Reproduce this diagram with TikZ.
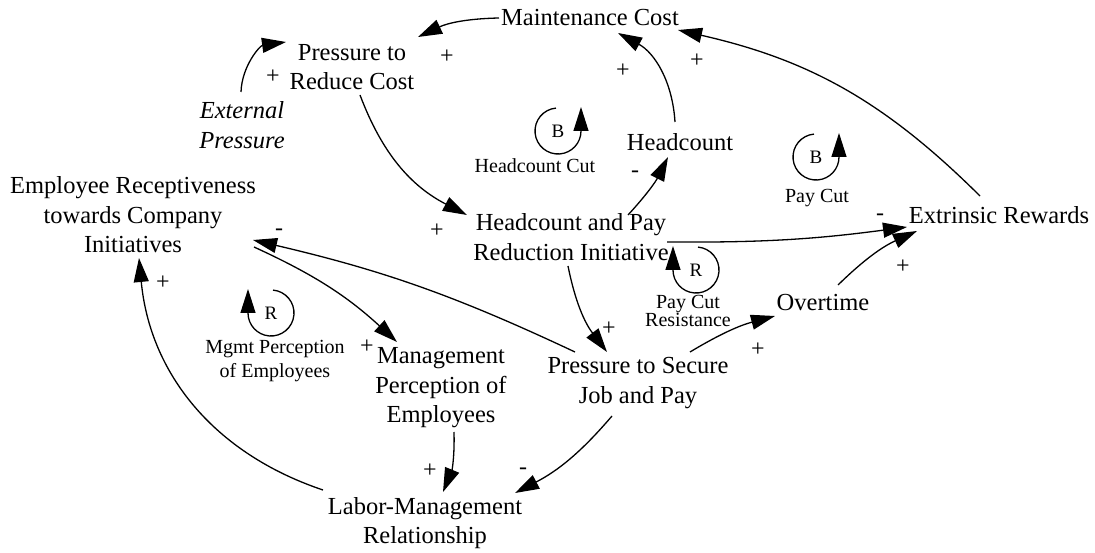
\documentclass[tikz,border=0pt]{standalone}
\usepackage{fontspec}
\setmainfont{Liberation Serif}
\usetikzlibrary{arrows.meta,calc}
\begin{document}
\begin{tikzpicture}[x=1pt,y=1pt,
  var/.style={align=center, inner sep=0pt, font=\fontsize{24.5}{29.5}\selectfont},
  lbl/.style={align=center, inner sep=0pt, font=\fontsize{20}{24}\selectfont},
  pol/.style={inner sep=0pt, font=\fontsize{24}{28}\selectfont},
  lp/.style={inner sep=0pt, font=\fontsize{19}{22}\selectfont},
  link/.style={line width=1.3pt, -{Triangle[length=24pt,width=15pt]}},
  loopln/.style={line width=1.3pt, -{Triangle[length=24pt,width=15pt]}}
]
\useasboundingbox (0,0) rectangle (1095,552);
\fill[white] (0,0) rectangle (1095,552);

% variables
\node[var] (MC) at (590,534) {Maintenance Cost};
\node[var] (PRC) at (352,485) {Pressure to\\Reduce Cost};
\node[var, font=\fontsize{24.5}{30}\selectfont\itshape] (EP) at (242,427) {External\\Pressure};
\node[var] (HC) at (680,410) {Headcount};
\node[var] (HPRI) at (571,315) {Headcount and Pay\\Reduction Initiative};
\node[var] (ER) at (999,337) {Extrinsic Rewards};
\node[var] (OT) at (823,249) {Overtime};
\node[var] (ERC) at (133,337) {Employee Receptiveness\\towards Company\\Initiatives};
\node[var] (MPE) at (441,164) {Management\\Perception of\\Employees};
\node[var] (PSJ) at (638,169) {Pressure to Secure\\Job and Pay};
\node[var] (LMR) at (425,29) {Labor-Management\\Relationship};

% loop labels
\node[lbl] (HCL) at (535,386) {Headcount Cut};
\node[lbl] (PCL) at (817,354) {Pay Cut};
\node[lbl, font=\fontsize{20}{13}\selectfont] (PCRL) at (688,241) {Pay Cut\\Resistance};
\node[lbl] (MPL) at (275,191) {Mgmt Perception\\of Employees};

% loop symbols
\node[lp] (L1) at (558,421) {B};
\node[lp] (L2) at (816,395) {B};
\node[lp] (L3) at (696,282) {R};
\node[lp] (L4) at (271,239) {R};
\draw[loopln] ($(L1)+(95:23)$) arc[start angle=95,end angle=360,radius=23] -- ++(0,24);
\draw[loopln] ($(L2)+(95:23)$) arc[start angle=95,end angle=360,radius=23] -- ++(0,24);
\draw[loopln] ($(L3)+(85:23)$) arc[start angle=85,end angle=-180,radius=23] -- ++(0,24);
\draw[loopln] ($(L4)+(85:23)$) arc[start angle=85,end angle=-180,radius=23] -- ++(0,24);

% links
\draw[link] ($(MC)+(-91,0)$) to[bend right=12] ($(PRC)+(66,30)$);
\draw[link] ($(EP)+(-1,33)$) to[bend left=40] ($(PRC)+(-66,25)$);
\draw[link] ($(PRC)+(8,-28)$) to[bend right=21] ($(HPRI)+(-104,22)$);
\draw[link] ($(HPRI)+(57,22)$) to[bend right=8] ($(HC)+(-12,-15)$);
\draw[link] ($(HC)+(-5,20)$) to[bend right=29] ($(MC)+(28,-15)$);
\draw[link] ($(HPRI)+(96,-5)$) to[bend right=4] ($(ER)+(-92,-12)$);
\draw[link] ($(OT)+(15,18)$) to[bend left=10] ($(ER)+(-82,-16)$);
\draw[link] ($(ER)+(-19,19)$) to[bend right=16] ($(MC)+(88,-12)$);
\draw[link] ($(HPRI)+(-3,-29)$) to[bend right=13] ($(PSJ)+(-31,31)$);
\draw[link] ($(PSJ)+(52,31)$) to[bend left=8] ($(OT)+(-48,-13)$);
\draw[link] ($(PSJ)+(-63,31)$) to[bend right=6] ($(ERC)+(120,-25)$);
\draw[link] ($(ERC)+(121,-32)$) to[bend left=9] ($(MPE)+(-44,46)$);
\draw[link] ($(MPE)+(13,-44)$) to[bend left=12] ($(LMR)+(18,31)$);
\draw[link] ($(PSJ)+(-26,-33)$) to[bend left=11] ($(LMR)+(90,30)$);
\draw[link] ($(LMR)+(-102,33)$) to[bend left=33] ($(ERC)+(6,-43)$);

% polarities
\node[pol] (p1) at (447,495) {+};
\node[pol] (p2) at (273,475) {+};
\node[pol] (p3) at (437,321) {+};
\node[pol] (p4) at (635,378) {-};
\node[pol] (p5) at (623,481) {+};
\node[pol] (p6) at (697,491) {+};
\node[pol] (p7) at (880,335) {-};
\node[pol] (p8) at (903,285) {+};
\node[pol] (p9) at (609,223) {+};
\node[pol] (p10) at (758,202) {+};
\node[pol] (p11) at (279,320) {-};
\node[pol] (p12) at (367,205) {+};
\node[pol] (p13) at (430,81) {+};
\node[pol] (p14) at (523,81) {-};
\node[pol] (p15) at (163,269) {+};
\end{tikzpicture}
\end{document}
